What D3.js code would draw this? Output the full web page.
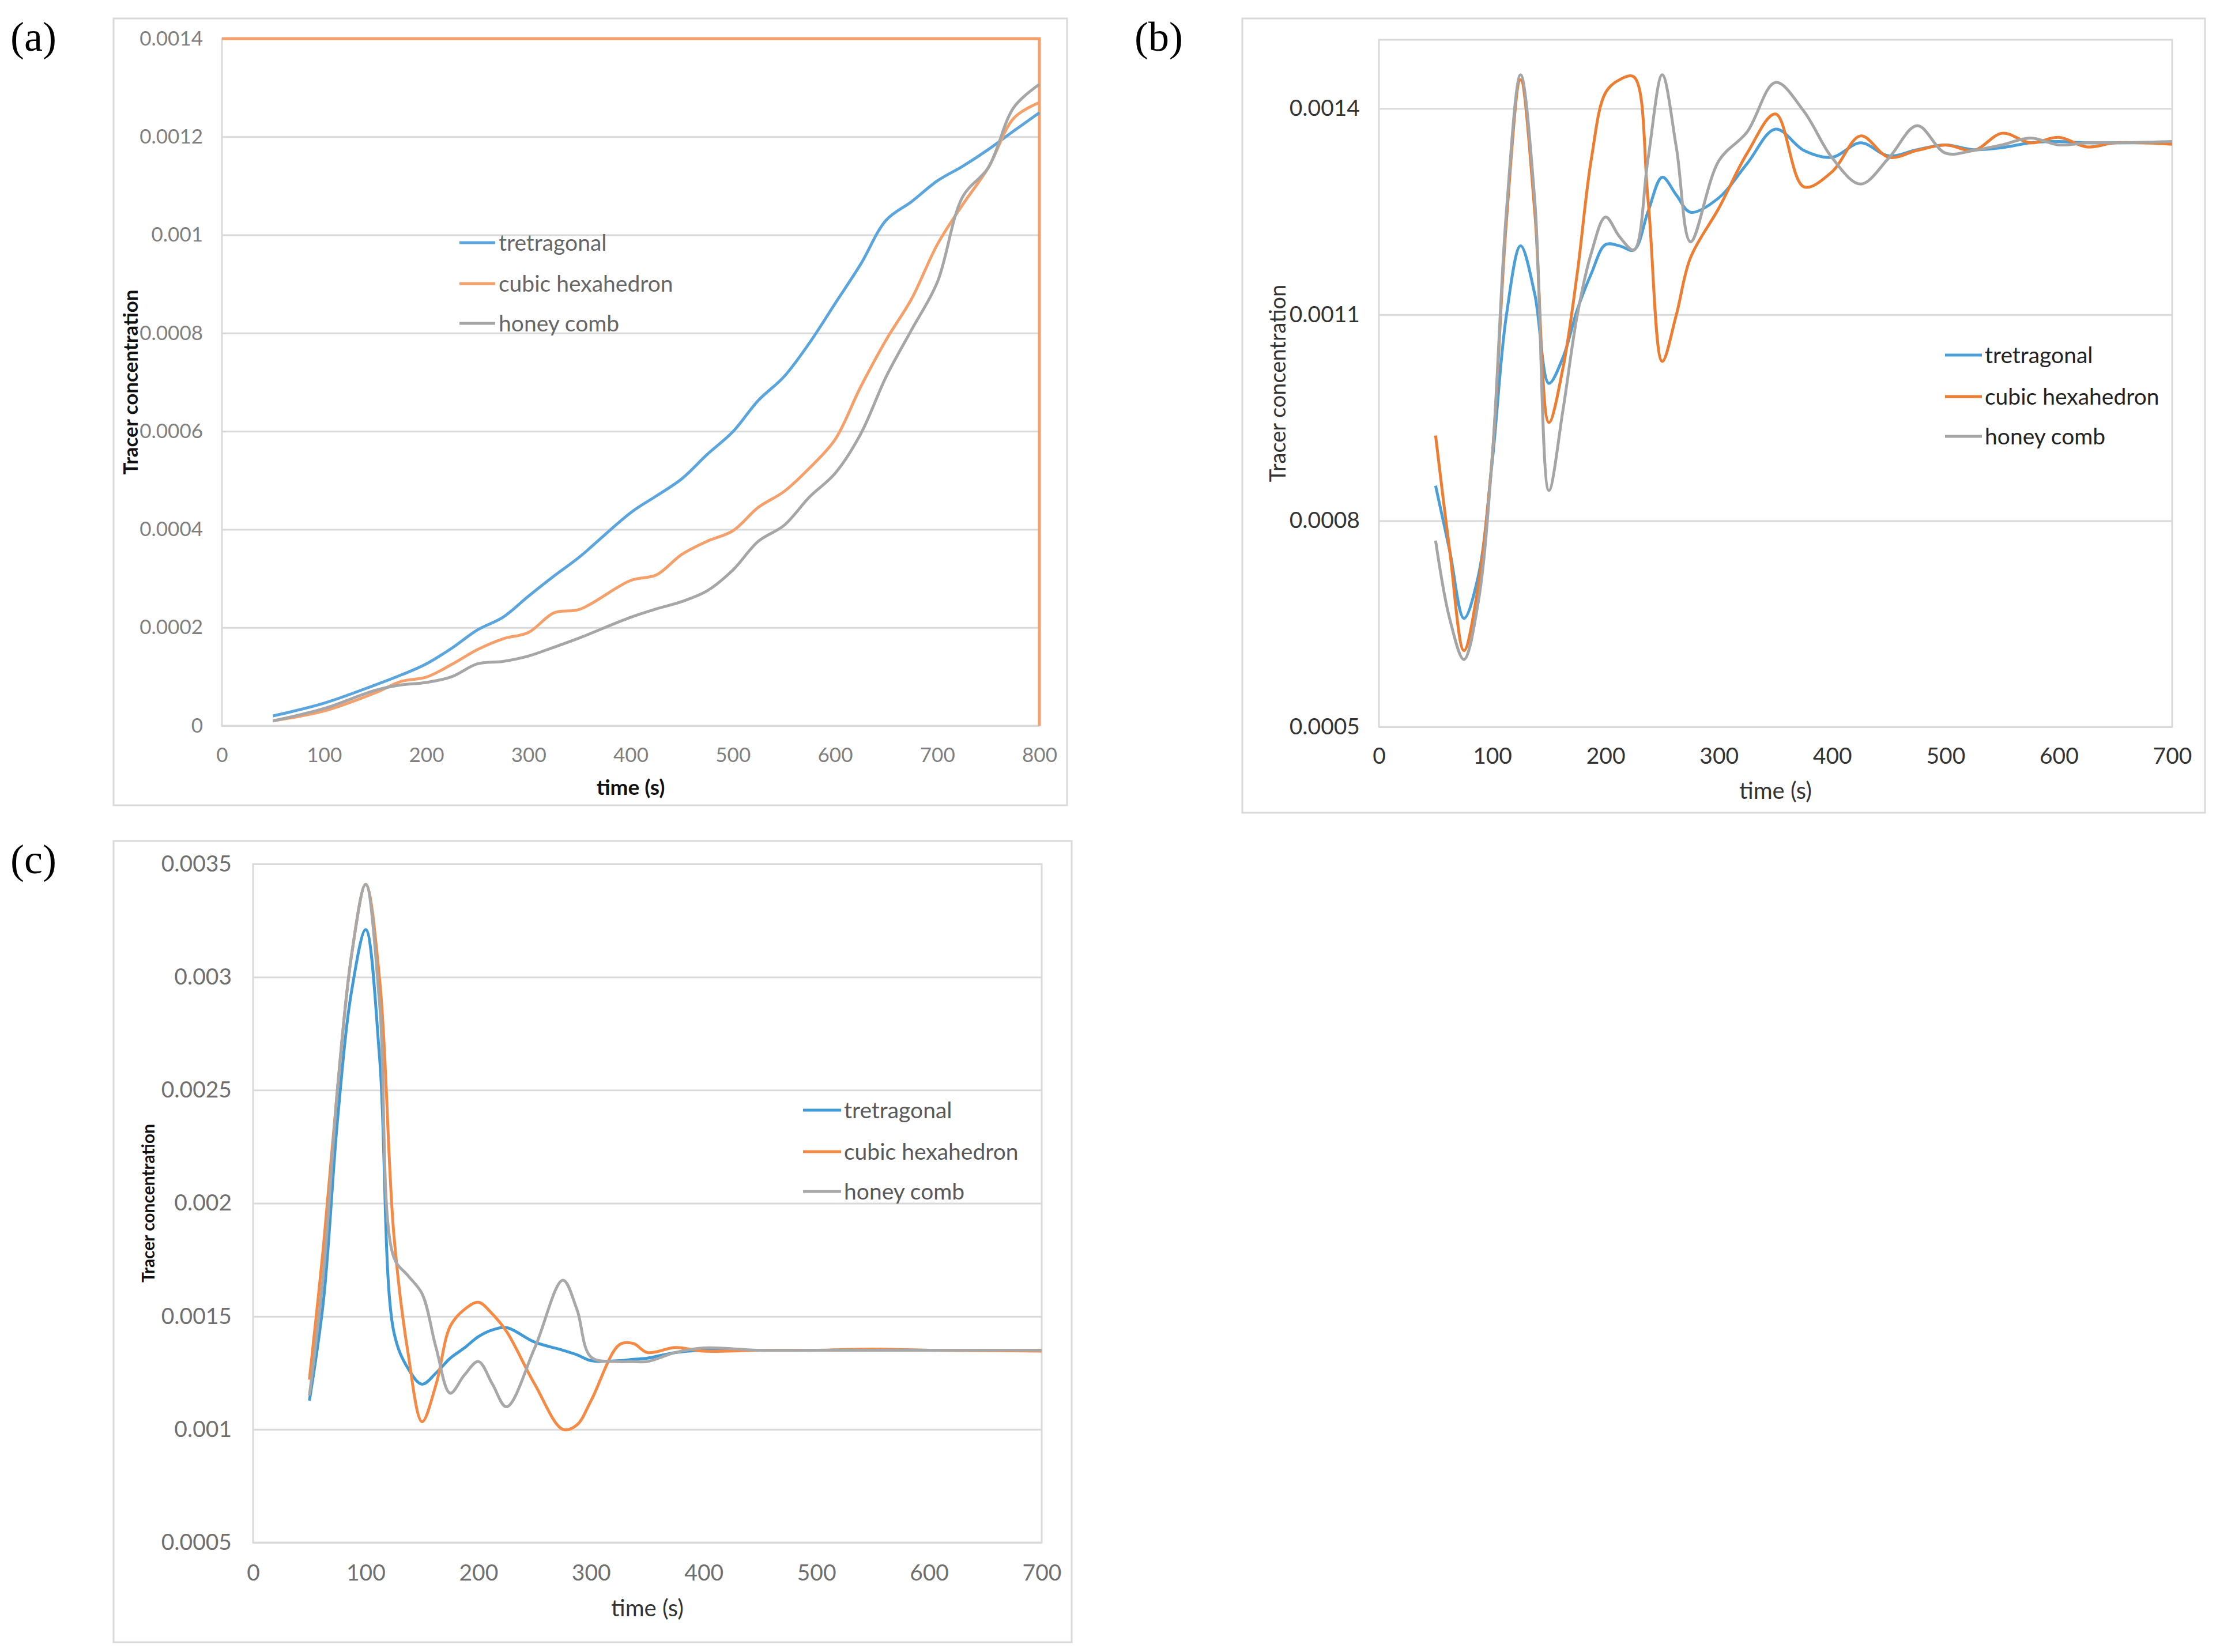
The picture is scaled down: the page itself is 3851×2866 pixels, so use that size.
<!DOCTYPE html>
<html>
<head>
<meta charset="utf-8">
<script src="https://cdn.jsdelivr.net/npm/d3@7"></script>
<style>
  body { margin: 0; background: #fff; }
  svg { display: block; }
  text { font-family: Lato, "Open Sans", sans-serif; }
</style>
</head>
<body>
<svg width="3851" height="2866"></svg>
<script>
// ---- data ----
const seriesNames = ['tretragonal', 'cubic hexahedron', 'honey comb'];

// panel (a)
const aTime = [50,100,150,175,200,225,250,275,300,325,350,400,425,450,475,500,525,550,575,600,625,650,675,700,725,750,775,800];
const aTetra = [0.00002,0.000046,0.000083,0.000103,0.000126,0.000158,0.000195,0.000221,0.000264,0.000305,0.000344,0.000434,0.000468,0.000503,0.000553,0.000599,0.000663,0.000711,0.00078,0.00086,0.00094,0.00103,0.001068,0.00111,0.00114,0.001174,0.001212,0.001249];
const aCubic = [0.00001,0.00003,0.000067,0.00009,0.000099,0.000125,0.000155,0.000177,0.00019,0.00023,0.000237,0.000296,0.000307,0.000349,0.000376,0.000397,0.000445,0.000477,0.000525,0.000583,0.00069,0.000786,0.00087,0.00098,0.001062,0.001137,0.001238,0.00127];
const aHoney = [0.00001,0.000035,0.000072,0.000083,0.000088,0.0001,0.000126,0.000131,0.000142,0.00016,0.000179,0.000221,0.000238,0.000253,0.000275,0.000317,0.000376,0.000408,0.000466,0.000514,0.000594,0.000711,0.000807,0.000903,0.001078,0.001137,0.00126,0.001307];
const aBoxTime = [0, 800, 800];
const aBoxConc = [0.0014, 0.0014, 0];
const aYTicks = [0,0.0002,0.0004,0.0006,0.0008,0.001,0.0012,0.0014];
const aYLabels = ['0','0.0002','0.0004','0.0006','0.0008','0.001','0.0012','0.0014'];
const aXTicks = [0,100,200,300,400,500,600,700,800];

// panel (b)
const bTime = [50,62.5,75,87.5,100,112.5,125,137.5,150,162.5,175,187.5,200,212.5,225,237.5,250,262.5,275,300,325,350,375,400,425,450,475,500,525,550,575,600,625,650,700];
const bTetra = [0.000851,0.000756,0.000658,0.000718,0.000886,0.001099,0.0012,0.00113,0.001,0.001038,0.001107,0.00116,0.001202,0.0012,0.001194,0.00125,0.0013,0.001274,0.001249,0.00127,0.00132,0.00137,0.001339,0.001329,0.00135,0.001331,0.00134,0.001347,0.00134,0.001343,0.00135,0.001352,0.00135,0.00135,0.00135];
const bCubic = [0.000924,0.000756,0.000611,0.000703,0.000893,0.001236,0.001442,0.00125,0.000943,0.001023,0.00116,0.001327,0.001423,0.001442,0.001446,0.001267,0.001032,0.0011,0.001183,0.001255,0.001335,0.001392,0.001286,0.001308,0.00136,0.001329,0.001339,0.001347,0.001339,0.001364,0.00135,0.001358,0.001344,0.00135,0.001348];
const bHoney = [0.000771,0.000657,0.000598,0.00068,0.000893,0.00125,0.001449,0.001267,0.000844,0.000962,0.001099,0.00119,0.001242,0.001213,0.001194,0.001327,0.001449,0.001343,0.001206,0.001324,0.001366,0.001438,0.001396,0.001328,0.00129,0.001328,0.001375,0.001335,0.001339,0.001347,0.001357,0.001347,0.00135,0.00135,0.001352];
const bYTicks = [0.0005,0.0008,0.0011,0.0014];
const bYLabels = ['0.0005','0.0008','0.0011','0.0014'];
const bXTicks = [0,100,200,300,400,500,600,700];

// panel (c)
const cTime = [50,62.5,75,87.5,100,112.5,125,137.5,150,162.5,175,187.5,200,212.5,225,250,275,287.5,300,325,337.5,350,375,400,450,500,550,600,650,700];
const cTetra = [0.001127,0.00157,0.00237,0.00294,0.00321,0.00263,0.00143,0.00127,0.0012,0.00125,0.001315,0.00136,0.00141,0.00144,0.00145,0.001386,0.00135,0.00133,0.001304,0.001304,0.00131,0.001315,0.00134,0.00135,0.00135,0.00135,0.00135,0.00135,0.00135,0.00135];
const cCubic = [0.00122,0.00181,0.00251,0.0031,0.00341,0.00298,0.00186,0.00134,0.001034,0.0012,0.001456,0.00153,0.001562,0.00151,0.001433,0.0012,0.001,0.00102,0.001127,0.001374,0.00138,0.00134,0.001362,0.001346,0.00135,0.00135,0.001355,0.00135,0.001348,0.001346];
const cHoney = [0.00115,0.00169,0.00251,0.0031,0.00341,0.00287,0.00176,0.00168,0.0016,0.00136,0.00116,0.00124,0.0013,0.0012,0.0011,0.00136,0.00166,0.00153,0.00132,0.0013,0.0013,0.0013,0.00134,0.00136,0.00135,0.00135,0.00135,0.00135,0.00135,0.00135];
const cYTicks = [0.0005,0.001,0.0015,0.002,0.0025,0.003,0.0035];
const cYLabels = ['0.0005','0.001','0.0015','0.002','0.0025','0.003','0.0035'];
const cXTicks = [0,100,200,300,400,500,600,700];

const svg = d3.select('svg');
const gridColor = '#d9d9d9';

const panels = [
  {
    tag: '(a)', tagX: 18, tagY: 88,
    box: {x: 197, y: 32, w: 1654, h: 1365},
    plot: {l: 385, t: 67, r: 1803, b: 1259},
    xDomain: [0, 800], yDomain: [0, 0.0014],
    xTicks: aXTicks, yTicks: aYTicks, yLabels: aYLabels,
    tickSize: 35, tickFill: '#7f7f7f', yPad: 33, xPad: 38,
    xTitle: {y: 1366, size: 37, weight: 'bold', fill: '#111'},
    yTitle: {x: 227, size: 35, weight: 'bold', fill: '#111'},
    colors: ['#5aa5dd', '#f5a06a', '#a6a6a6'],
    time: aTime, series: [aTetra, aCubic, aHoney],
    extra: {time: aBoxTime, conc: aBoxConc, color: '#f5a06a'},
    legend: {x1: 797, x2: 859, tx: 865, rows: [421, 492, 561], size: 39, fill: '#666'}
  },
  {
    tag: '(b)', tagX: 1968, tagY: 88,
    box: {x: 2155, y: 32, w: 1670, h: 1378},
    plot: {l: 2392, t: 69, r: 3768, b: 1261},
    xDomain: [0, 700], yDomain: [0.0005, 0.0015],
    xTicks: bXTicks, yTicks: bYTicks, yLabels: bYLabels,
    tickSize: 39, tickFill: '#333', yPad: 33, xPad: 36,
    xTitle: {y: 1372, size: 40, weight: 'normal', fill: '#333'},
    yTitle: {x: 2217, size: 38, weight: 'normal', fill: '#333'},
    colors: ['#4a9fd8', '#ed7d31', '#a5a5a5'],
    time: bTime, series: [bTetra, bCubic, bHoney],
    legend: {x1: 3374, x2: 3438, tx: 3443, rows: [616, 688, 757], size: 39, fill: '#222'}
  },
  {
    tag: '(c)', tagX: 18, tagY: 1515,
    box: {x: 197, y: 1459, w: 1662, h: 1390},
    plot: {l: 439, t: 1499, r: 1807, b: 2676},
    xDomain: [0, 700], yDomain: [0.0005, 0.0035],
    xTicks: cXTicks, yTicks: cYTicks, yLabels: cYLabels,
    tickSize: 39, tickFill: '#6f6f6f', yPad: 37, xPad: 38,
    xTitle: {y: 2790, size: 40, weight: 'normal', fill: '#333'},
    yTitle: {x: 257, size: 30, weight: 'bold', fill: '#111'},
    colors: ['#3f9ad6', '#f58a45', '#a8a8a8'],
    time: cTime, series: [cTetra, cCubic, cHoney],
    legend: {x1: 1393, x2: 1459, tx: 1464, rows: [1926, 1998, 2067], size: 39, fill: '#595959'}
  }
];

const drawPanel = p => {
  const innerWidth = p.plot.r - p.plot.l;
  const innerHeight = p.plot.b - p.plot.t;

  svg.append('rect')
    .attr('x', p.box.x).attr('y', p.box.y)
    .attr('width', p.box.w).attr('height', p.box.h)
    .attr('fill', 'none').attr('stroke', gridColor).attr('stroke-width', 3);

  svg.append('text')
    .attr('x', p.tagX).attr('y', p.tagY)
    .style('font-family', '"Liberation Serif", "DejaVu Serif", serif')
    .style('font-size', '72px')
    .attr('fill', '#000')
    .text(p.tag);

  const g = svg.append('g')
    .attr('transform', `translate(${p.plot.l},${p.plot.t})`);

  const xScale = d3.scaleLinear().domain(p.xDomain).range([0, innerWidth]);
  const yScale = d3.scaleLinear().domain(p.yDomain).range([innerHeight, 0]);

  const yAxis = d3.axisLeft(yScale)
    .tickValues(p.yTicks)
    .tickSize(-innerWidth)
    .tickPadding(p.yPad)
    .tickFormat((d, i) => p.yLabels[i]);

  const yAxisG = g.append('g').call(yAxis);
  yAxisG.select('.domain').remove();
  yAxisG.selectAll('line').attr('stroke', gridColor).attr('stroke-width', 3);
  yAxisG.selectAll('text')
    .style('font-size', p.tickSize + 'px')
    .style('font-family', 'Lato, "Open Sans", sans-serif')
    .attr('fill', p.tickFill);

  const xAxis = d3.axisBottom(xScale)
    .tickValues(p.xTicks)
    .tickSize(0)
    .tickPadding(p.xPad);

  const xAxisG = g.append('g')
    .attr('transform', `translate(0,${innerHeight})`)
    .call(xAxis);
  xAxisG.select('.domain').remove();
  xAxisG.selectAll('text')
    .style('font-size', p.tickSize + 'px')
    .style('font-family', 'Lato, "Open Sans", sans-serif')
    .attr('fill', p.tickFill);

  // plot border
  g.append('rect')
    .attr('width', innerWidth).attr('height', innerHeight)
    .attr('fill', 'none').attr('stroke', gridColor).attr('stroke-width', 3);

  svg.append('text')
    .attr('x', (p.plot.l + p.plot.r) / 2)
    .attr('y', p.xTitle.y)
    .attr('dy', '0.35em')
    .attr('text-anchor', 'middle')
    .style('font-size', p.xTitle.size + 'px')
    .style('font-weight', p.xTitle.weight)
    .attr('fill', p.xTitle.fill)
    .text('time (s)');

  svg.append('text')
    .attr('transform', `translate(${p.yTitle.x},${(p.plot.t + p.plot.b) / 2}) rotate(-90)`)
    .attr('dy', '0.35em')
    .attr('text-anchor', 'middle')
    .style('font-size', p.yTitle.size + 'px')
    .style('font-weight', p.yTitle.weight)
    .attr('fill', p.yTitle.fill)
    .text('Tracer concentration');

  const lineGenerator = d3.line()
    .x(d => xScale(d[0]))
    .y(d => yScale(d[1]))
    .curve(d3.curveCatmullRom.alpha(0.5));

  if (p.extra) {
    const pts = p.extra.time.map((t, i) => [t, p.extra.conc[i]]);
    g.append('path')
      .attr('d', d3.line().x(d => xScale(d[0])).y(d => yScale(d[1]))(pts))
      .attr('fill', 'none')
      .attr('stroke', p.extra.color)
      .attr('stroke-width', 5);
  }

  p.series.forEach((vals, k) => {
    const pts = p.time.map((t, i) => [t, vals[i]]);
    g.append('path')
      .attr('d', lineGenerator(pts))
      .attr('fill', 'none')
      .attr('stroke', p.colors[k])
      .attr('stroke-width', 5)
      .attr('stroke-linejoin', 'round');
  });

  const lg = p.legend;
  seriesNames.forEach((name, k) => {
    svg.append('line')
      .attr('x1', lg.x1).attr('x2', lg.x2)
      .attr('y1', lg.rows[k]).attr('y2', lg.rows[k])
      .attr('stroke', p.colors[k]).attr('stroke-width', 5);
    svg.append('text')
      .attr('x', lg.tx).attr('y', lg.rows[k])
      .attr('dy', '0.35em')
      .style('font-size', lg.size + 'px')
      .attr('fill', lg.fill)
      .text(name);
  });
};

panels.forEach(drawPanel);
</script>
</body>
</html>
